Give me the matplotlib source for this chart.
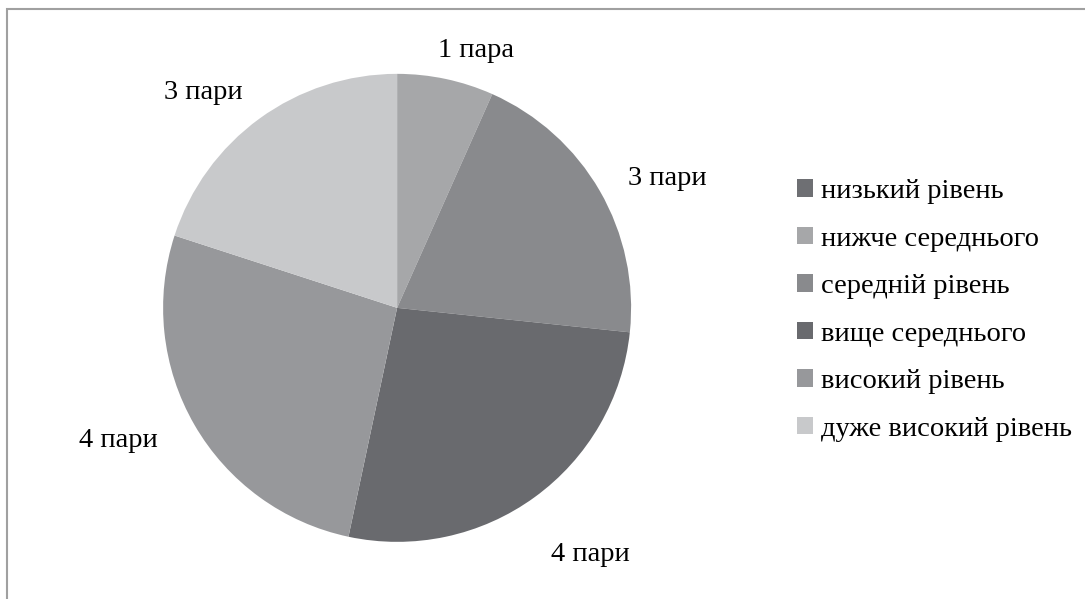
import numpy as np
import matplotlib.pyplot as plt
from matplotlib.patches import Rectangle, Patch

plt.rcParams['font.family'] = ['Liberation Serif', 'DejaVu Serif']

# --- Data ---
categories = ['низький рівень', 'нижче середнього', 'середній рівень',
              'вище середнього', 'високий рівень', 'дуже високий рівень']
values = [0, 1, 3, 4, 4, 3]
value_labels = ['0 пар', '1 пара', '3 пари', '4 пари', '4 пари', '3 пари']
colors = ['#6e6f73', '#a6a7a9', '#898a8d', '#696a6e', '#97989b', '#c8c9cb']

fig = plt.figure(figsize=(10.85, 5.99), dpi=100)

# outer frame (only top and left edges visible in the reference)
fig.patches.append(Rectangle((7 / 1085, -0.1), 1.2, 1 - 9 / 599 + 0.1,
                             transform=fig.transFigure, fill=False,
                             edgecolor='#a0a0a0', linewidth=1.5))

ax = fig.add_axes([0.366 - 0.2157, 0.486 - 0.3906, 0.4314, 0.7813])

# skip empty categories in the pie, keep them in the legend
idx = [i for i, v in enumerate(values) if v > 0]
wedges, _ = ax.pie([values[i] for i in idx], colors=[colors[i] for i in idx],
                   startangle=90, counterclock=False,
                   wedgeprops=dict(linewidth=0))

# label placement: (distance in radii, angle shift from slice middle, deg)
label_pos = [(1.15, -5), (1.28, -4.4), (1.34, 2), (1.32, -4.6), (1.24, 6)]
for w, i, (d, shift) in zip(wedges, idx, label_pos):
    ang = np.deg2rad((w.theta1 + w.theta2) / 2 + shift)
    ax.text(d * np.cos(ang), d * np.sin(ang), value_labels[i],
            ha='center', va='center', fontsize=20.5)
ax.set_xlim(-1, 1)
ax.set_ylim(-1, 1)
ax.set_aspect('equal')

handles = [Patch(facecolor=c, edgecolor='none') for c in colors]
fig.legend(handles, categories, loc='center left',
           bbox_to_anchor=(0.724, 0.482), frameon=False, fontsize=20.5,
           handlelength=0.55, handleheight=0.55, handletextpad=0.3,
           labelspacing=0.79, borderaxespad=0)

fig.savefig('out.png', dpi=100)
